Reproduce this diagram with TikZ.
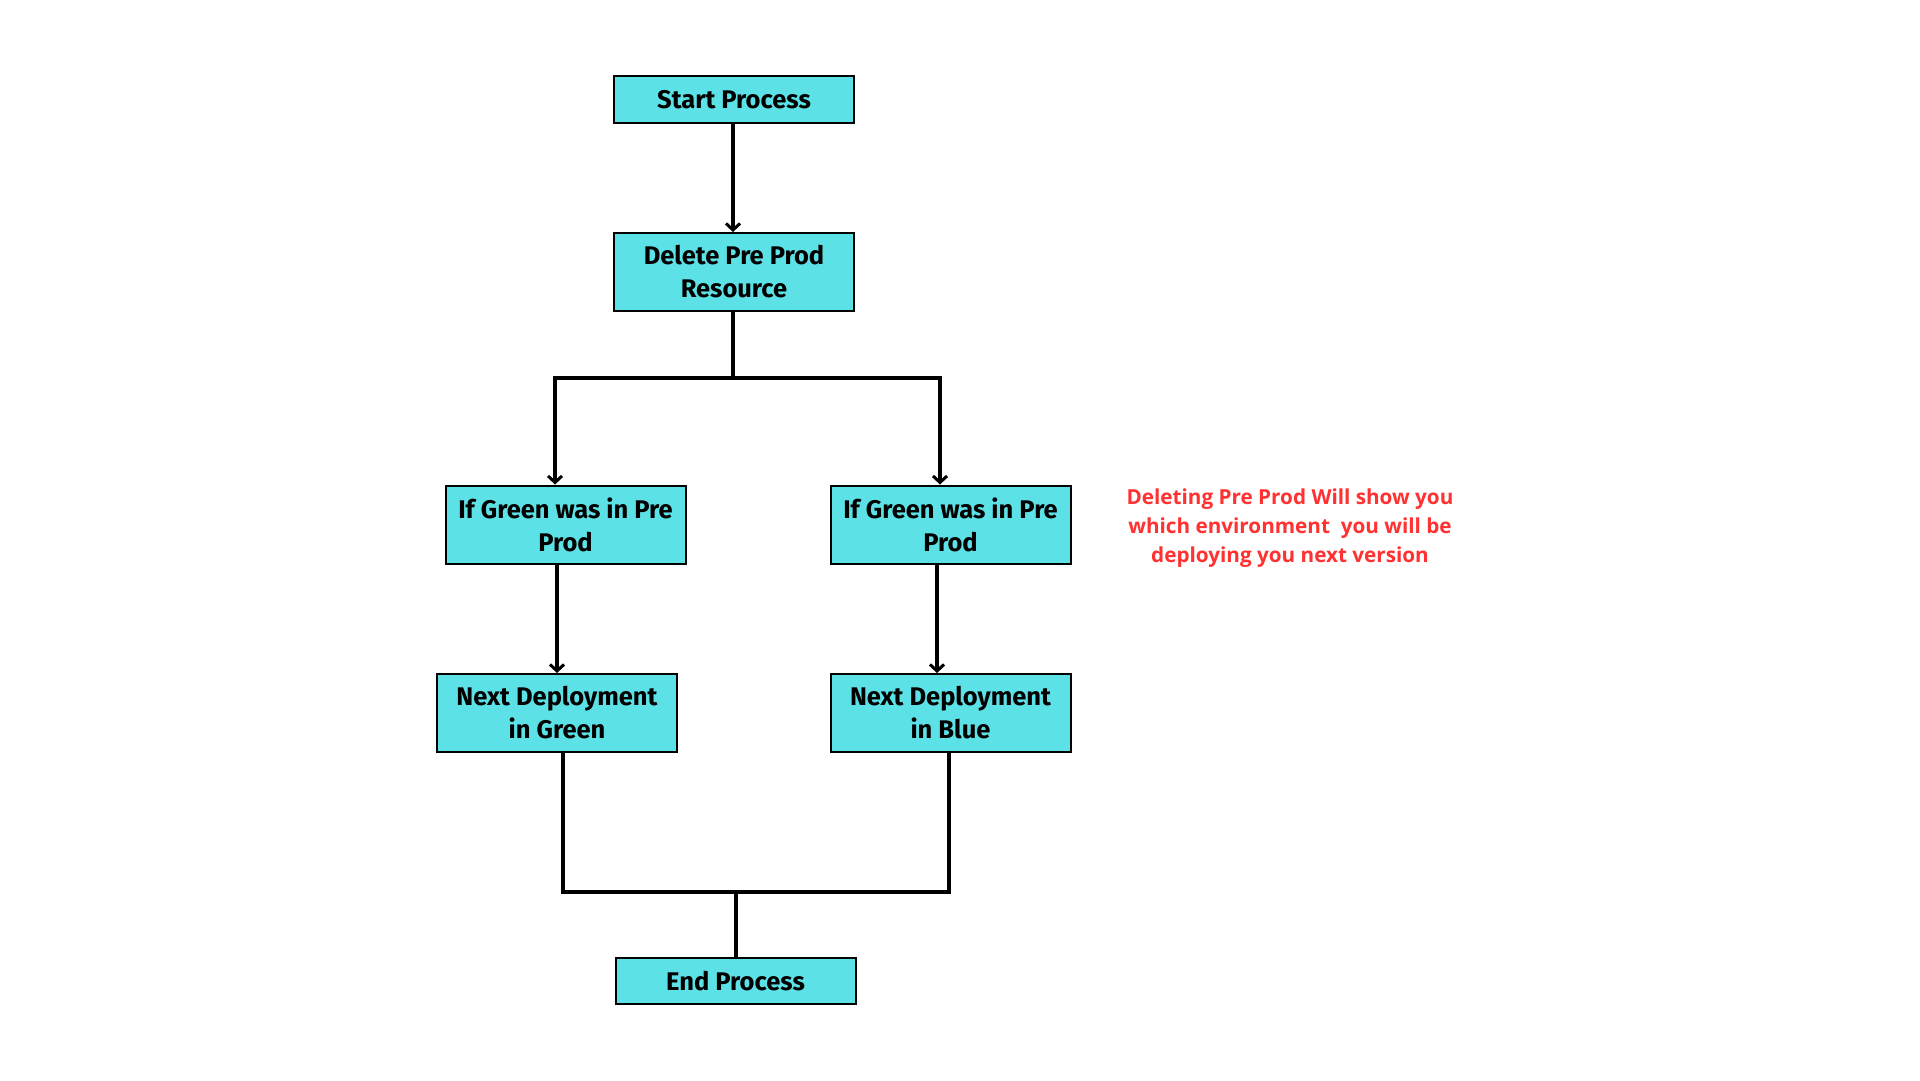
\documentclass[tikz,border=0pt]{standalone}
\usepackage{fontspec}
\usetikzlibrary{arrows.meta}
\newfontfamily\boxfont{Fira Sans Bold}
\newfontfamily\notefont{Open Sans Bold}
\definecolor{boxcyan}{HTML}{5CE1E6}
\definecolor{notered}{HTML}{FF3131}
\begin{document}
\begin{tikzpicture}[x=1pt,y=-1pt,
  flowbox/.style={draw=black, line width=2pt, fill=boxcyan, minimum width=240pt,
    align=center, inner sep=0pt, font=\boxfont\fontsize{25.5}{33}\selectfont},
  link/.style={line width=3.5pt, black},
  arrowlink/.style={link, -{Straight Barb[length=6.5pt,width=14pt,line width=3pt]}}]
  \useasboundingbox (0,0) rectangle (1920,1080);

  % process boxes
  \node[flowbox, minimum height=47pt] (start) at (734,99.5) {Start Process};
  \node[flowbox, minimum height=78pt] (delete) at (734,272) {Delete Pre Prod\\Resource};
  \node[flowbox, minimum height=78pt] (ifleft) at (565.5,524.5) {If Green was in Pre\\Prod};
  \node[flowbox, minimum height=78pt] (ifright) at (950.5,524.5) {If Green was in Pre\\Prod};
  \node[flowbox, minimum height=78pt] (green) at (557,713) {Next Deployment\\in Green};
  \node[flowbox, minimum height=78pt] (blue) at (950.5,713) {Next Deployment\\in Blue};
  \node[flowbox, minimum height=46pt] (end) at (735.5,981) {End Process};

  % side note
  \node[text=notered, align=center, font=\notefont\fontsize{20.7}{29}\selectfont]
    (note) at (1290,528) {Deleting Pre Prod Will show you\\which environment\ \ you will be\\deploying you next version};

  % branching junctions
  \coordinate (split) at (733,378);
  \coordinate (splitL) at (555,378);
  \coordinate (splitR) at (940,378);
  \coordinate (join) at (736,892);
  \coordinate (joinL) at (563,892);
  \coordinate (joinR) at (949,892);
  \coordinate (dropR) at (937,0);

  % connectors
  \draw[arrowlink] (start.south -| split) -- (delete.north -| split);
  \draw[link] (delete.south -| split) -- (split);
  \draw[link, line cap=rect] (splitL) -- (splitR);
  \draw[arrowlink] (splitL) -- (splitL |- ifleft.north);
  \draw[arrowlink] (splitR) -- (splitR |- ifright.north);
  \draw[arrowlink] (green.north |- ifleft.south) -- (green.north);
  \draw[arrowlink] (dropR |- ifright.south) -- (dropR |- blue.north);
  \draw[link, line join=miter] (joinL |- green.south) -- (joinL) -- (joinR) -- (joinR |- blue.south);
  \draw[link] (join) -- (end.north -| join);
\end{tikzpicture}
\end{document}
